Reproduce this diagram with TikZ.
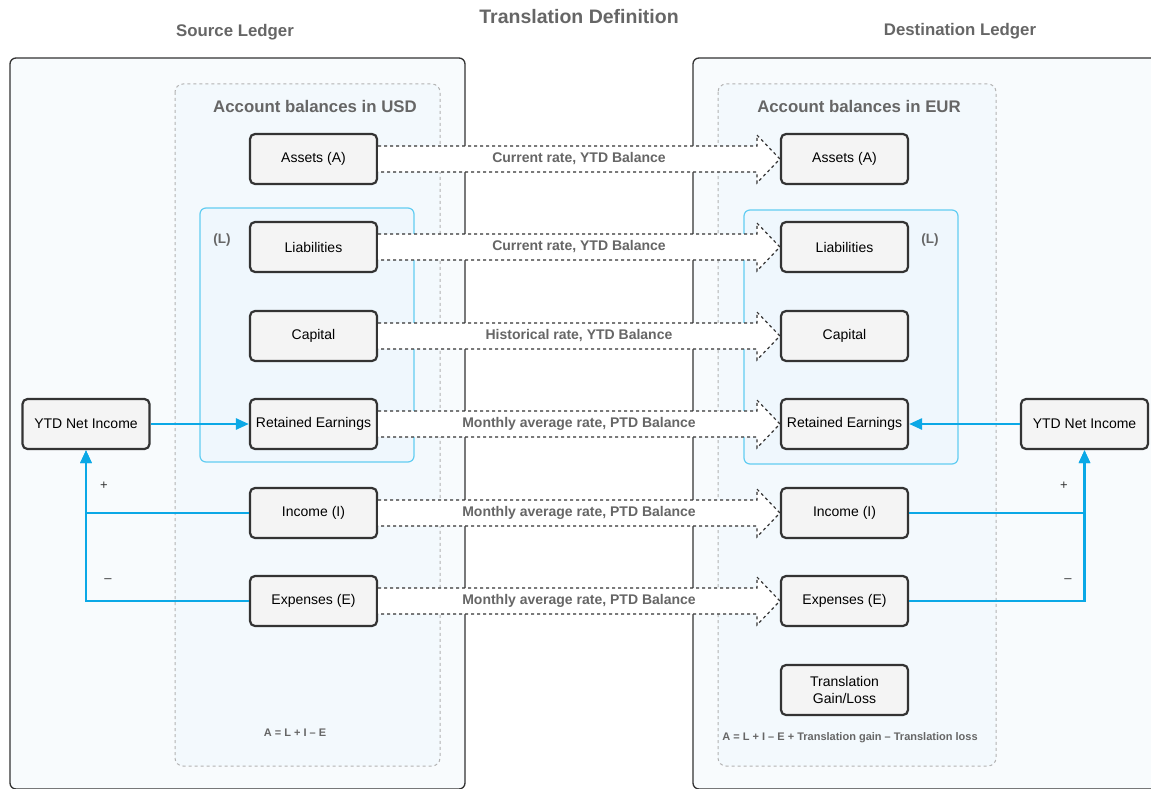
\documentclass[tikz,border=0pt]{standalone}
\usepackage{fontspec}
\setmainfont{Liberation Sans}
\usetikzlibrary{calc,arrows.meta}
\definecolor{txtgray}{HTML}{666666}
\definecolor{boxstroke}{HTML}{333333}
\definecolor{nodefill}{HTML}{F4F4F4}
\definecolor{outerfill}{HTML}{F8FBFD}
\definecolor{innerfill}{HTML}{F3F9FD}
\definecolor{innerstroke}{HTML}{B3B3B3}
\definecolor{lfill}{HTML}{EFF7FD}
\definecolor{lstroke}{HTML}{62CDF2}
\definecolor{conn}{HTML}{0BA8E6}
\tikzset{
  acct/.style={draw=boxstroke, fill=nodefill, line width=2.2pt, rounded corners=5pt,
    minimum width=127pt, minimum height=50pt, inner sep=2pt, align=center,
    font=\fontsize{14}{17}\selectfont},
  outerbox/.style={draw=boxstroke, fill=outerfill, line width=1.3pt, rounded corners=6pt},
  innerbox/.style={draw=innerstroke, fill=innerfill, line width=1pt, dashed, rounded corners=8pt},
  lbox/.style={draw=lstroke, fill=lfill, line width=1.2pt, rounded corners=6pt},
  hdr/.style={text=txtgray, font=\bfseries\fontsize{16.8}{20}\selectfont},
  arrlab/.style={text=txtgray, font=\bfseries\fontsize{14}{16}\selectfont},
  small/.style={text=txtgray, font=\bfseries\fontsize{11}{13}\selectfont},
  sign/.style={text=boxstroke, font=\fontsize{13}{15}\selectfont},
  conn/.style={draw=conn, line width=2.6pt},
  tip/.style={-{Triangle[length=13pt,width=11pt]}}
}
\newcommand\blockarr[3]{%
  \path[fill=white] ($(#1.east)+(0,-13)$) -- ($(#2.west)+(-23,-13)$) -- ($(#2.west)+(-23,-24)$)
     -- (#2.west) -- ($(#2.west)+(-23,24)$) -- ($(#2.west)+(-23,13)$) -- ($(#1.east)+(0,13)$) -- cycle;
  \draw[dashed, line width=1.2pt, boxstroke] ($(#1.east)+(0,-13)$) -- ($(#2.west)+(-23,-13)$) -- ($(#2.west)+(-23,-24)$)
     -- (#2.west) -- ($(#2.west)+(-23,24)$) -- ($(#2.west)+(-23,13)$) -- ($(#1.east)+(0,13)$);
  \node[arrlab] (#1lab) at ($(#1.east)!0.5!(#2.west)$) {#3};
}
\begin{document}
\begin{tikzpicture}[x=1pt,y=-1pt]
\useasboundingbox (0,0) rectangle (1151,789);
\clip (0,0) rectangle (1151,789);
\fill[white] (0,0) rectangle (1151,789);

% titles
\node[hdr, font=\bfseries\fontsize{19.5}{23}\selectfont] (title) at (579,17) {Translation Definition};
\node[hdr] (srcT) at (235,32) {Source Ledger};
\node[hdr] (dstT) at (960,31) {Destination Ledger};

% containers
\path[outerbox] (10,58) rectangle (465,789);
\path[outerbox] (693,58) rectangle (1170,789);
\path[innerbox] (175,84) rectangle (440,766);
\path[innerbox] (718,84) rectangle (996,766);
\node[hdr] (usdT) at (315,106) {Account balances in USD};
\node[hdr] (eurT) at (859,106) {Account balances in EUR};
\path[lbox] (200,208) rectangle (414,462);
\path[lbox] (744,210) rectangle (958,464);
\node[text=txtgray, font=\bfseries\fontsize{13.5}{15}\selectfont] (lL) at (222,240) {(L)};
\node[text=txtgray, font=\bfseries\fontsize{13.5}{15}\selectfont] (lR) at (930,240) {(L)};

% account nodes
\node[acct] (aL) at (313.5,159) {Assets (A)};
\node[acct] (liL) at (313.5,247) {Liabilities};
\node[acct] (cL) at (313.5,336) {Capital};
\node[acct] (rL) at (313.5,424) {Retained Earnings};
\node[acct] (iL) at (313.5,513) {Income (I)};
\node[acct] (eL) at (313.5,601) {Expenses (E)};

\node[acct] (aR) at (844.5,159) {Assets (A)};
\node[acct] (liR) at (844.5,247) {Liabilities};
\node[acct] (cR) at (844.5,336) {Capital};
\node[acct] (rR) at (844.5,424) {Retained Earnings};
\node[acct] (iR) at (844.5,513) {Income (I)};
\node[acct] (eR) at (844.5,601) {Expenses (E)};

% block arrows
\blockarr{aL}{aR}{Current rate, YTD Balance}
\blockarr{liL}{liR}{Current rate, YTD Balance}
\blockarr{cL}{cR}{Historical rate, YTD Balance}
\blockarr{rL}{rR}{Monthly average rate, PTD Balance}
\blockarr{iL}{iR}{Monthly average rate, PTD Balance}
\blockarr{eL}{eR}{Monthly average rate, PTD Balance}

\node[acct] (tgl) at (844.5,690) {Translation\\Gain/Loss};
\node[acct] (ytdL) at (86,424) {YTD Net Income};
\node[acct] (ytdR) at (1084.5,424) {YTD Net Income};

% blue connectors
\draw[conn, tip] (ytdL.east) -- (rL.west);
\draw[conn, tip] (iL.west) -| (ytdL.south);
\draw[conn, tip] (eL.west) -| (ytdL.south);
\draw[conn, tip] (ytdR.west) -- (rR.east);
\draw[conn, tip] (iR.east) -| (ytdR.south);
\draw[conn, tip] (eR.east) -| (ytdR.south);

\node[sign] (pl) at (104,486) {+};
\node[sign] (ml) at (108,581) {--};
\node[sign] (pr) at (1064,486) {+};
\node[sign] (mr) at (1068,581) {--};

% formulas
\node[small] (fL) at (295,733) {A = L + I -- E};
\node[small] (fR) at (850,738) {A = L + I -- E + Translation gain -- Translation loss};
\end{tikzpicture}
\end{document}
